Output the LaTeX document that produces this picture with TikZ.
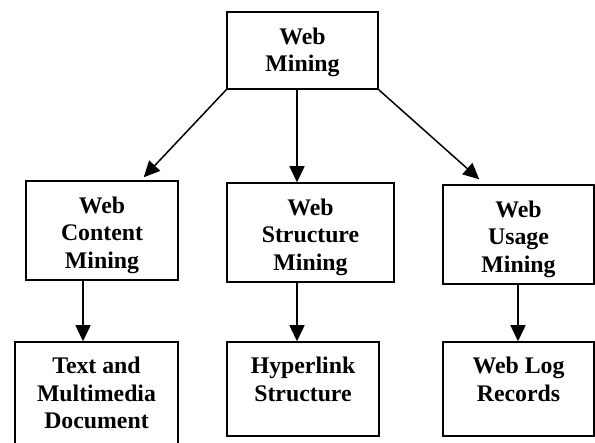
\documentclass[tikz,border=0pt]{standalone}
\usepackage{fontspec}
\setmainfont{Liberation Serif}
\usetikzlibrary{arrows.meta, positioning}

\begin{document}
\begin{tikzpicture}[x=1pt, y=-1pt,
  box/.style={draw, line width=1.5pt, inner sep=0pt},
  txt/.style={align=center, inner sep=0pt, font=\fontsize{23.8}{27.5}\selectfont\bfseries},
  e/.style={-{Triangle[length=16pt, width=15pt]}, line width=1.5pt}]

  \useasboundingbox (0,0) rectangle (595,443);
  \clip (0,0) rectangle (595,443);

  \node[box, minimum width=151pt, minimum height=77pt] (web) at (302.5,50.5) {};
  \node[txt, below=16.5pt of web.north] (webt) {Web\\Mining};

  \node[box, minimum width=152pt, minimum height=99pt] (wcm) at (102,230.5) {};
  \node[box, minimum width=167pt, minimum height=99pt] (wsm) at (310.5,232.5) {};
  \node[box, minimum width=151pt, minimum height=99pt] (wum) at (518.5,234.5) {};
  \node[txt, below=16.5pt of wcm.north] (wcmt) {Web\\Content\\Mining};
  \node[txt, below=16.5pt of wsm.north] (wsmt) {Web\\Structure\\Mining};
  \node[txt, below=16.5pt of wum.north] (wumt) {Web\\Usage\\Mining};

  \node[box, minimum width=163pt, minimum height=110pt] (tmd) at (96.5,397) {};
  \node[box, minimum width=152pt, minimum height=94pt] (hs) at (303,389) {};
  \node[box, minimum width=151pt, minimum height=94pt] (wlr) at (518.5,389) {};
  \node[txt, below=16pt of tmd.north] (tmdt) {Text and\\Multimedia\\Document};
  \node[txt, below=16pt of hs.north] (hst) {Hyperlink\\Structure};
  \node[txt, below=16pt of wlr.north] (wlrt) {Web Log\\Records};

  \draw[e] (web.south west) -- ([xshift=-35pt, yshift=3pt]wcm.north east);
  \draw[e] ([xshift=-5.5pt]web.south) -- ([xshift=-5.5pt]web.south |- wsm.north);
  \draw[e] (web.south east) -- ([xshift=37pt, yshift=5pt]wum.north west);

  \draw[e] ([xshift=-19pt]wcm.south) -- ([xshift=-19pt]wcm.south |- tmd.north);
  \draw[e] ([xshift=-13.5pt]wsm.south) -- ([xshift=-13.5pt]wsm.south |- hs.north);
  \draw[e] ([xshift=-0.5pt]wum.south) -- ([xshift=-0.5pt]wum.south |- wlr.north);
\end{tikzpicture}
\end{document}
